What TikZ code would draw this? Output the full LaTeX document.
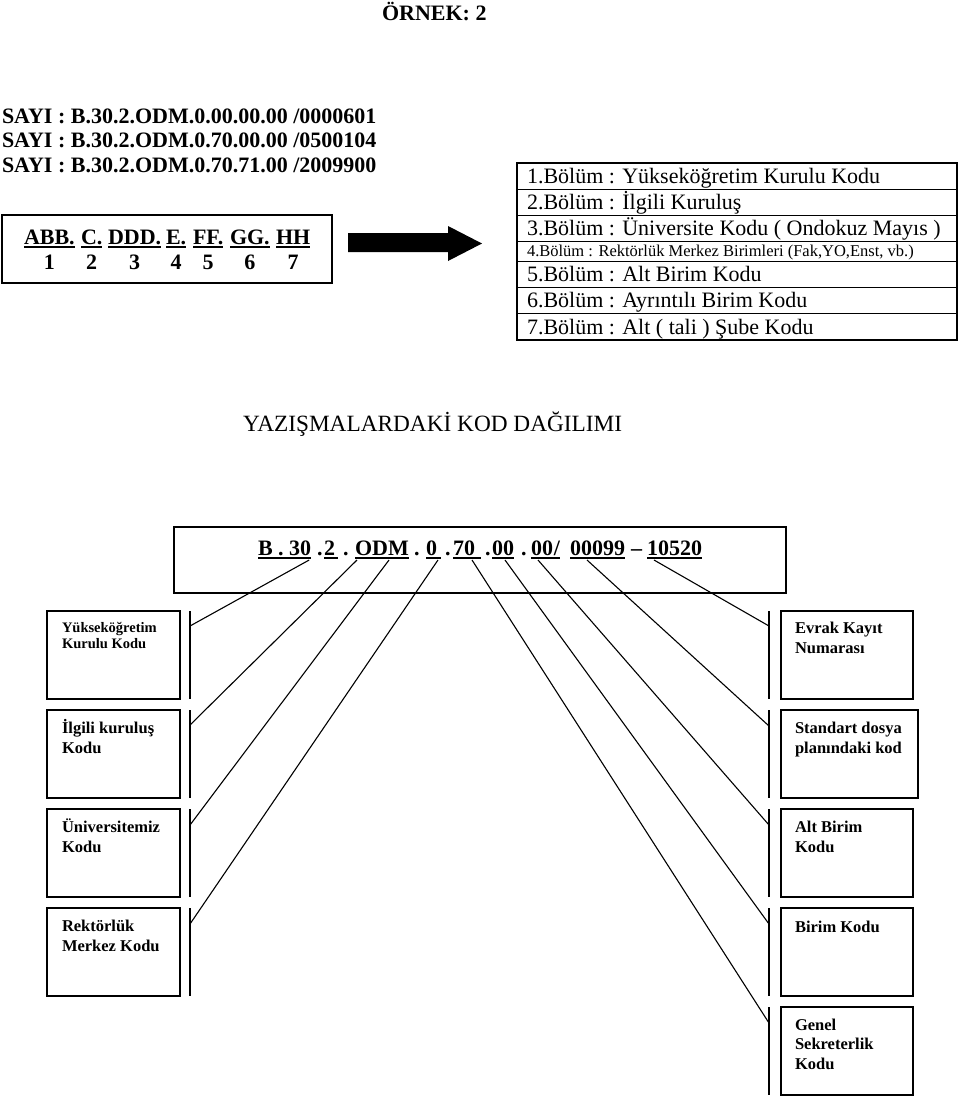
\documentclass[tikz,border=0pt]{standalone}
\usepackage{fontspec}
\setmainfont{Liberation Serif}
\usetikzlibrary{calc}
\newcommand{\myul}[2][0pt]{\setbox0\hbox{#2}\rlap{\rule[-3.5pt]{\dimexpr\wd0+#1\relax}{1.6pt}}\box0}
\begin{document}
\begin{tikzpicture}[x=1pt,y=-1pt,
  every node/.style={inner sep=0pt, outer sep=0pt},
  boxframe/.style={draw, line width=1.3pt, anchor=north west},
  lbox/.style={boxframe, minimum width=133pt, minimum height=88pt},
  rbox/.style={boxframe, minimum width=132pt, minimum height=88pt},
  btxt/.style={anchor=base west, align=left, font=\bfseries\fontsize{16.5}{20}\selectfont},
  conn/.style={line width=1.1pt},
  brk/.style={line width=1.3pt},
  bigtxt/.style={anchor=base west, font=\fontsize{23.3}{27}\selectfont},
  bigbold/.style={anchor=base west, font=\bfseries\fontsize{22}{26}\selectfont},
  rowtxt/.style={anchor=base west, font=\fontsize{22}{26}\selectfont},
  smallrow/.style={anchor=base west, font=\fontsize{16.5}{20}\selectfont},
  dotstyle/.style={anchor=base west, font=\bfseries\fontsize{22}{26}\selectfont}
]
\useasboundingbox (0,0) rectangle (960,1098);

% title
\node[bigbold] (title) at (382,20) {ÖRNEK: 2};

% SAYI lines
\node[bigbold] (sayi1) at (2,123) {SAYI : B.30.2.ODM.0.00.00.00 /0000601};
\node[bigbold] (sayi2) at (2,147.5) {SAYI : B.30.2.ODM.0.70.00.00 /0500104};
\node[bigbold] (sayi3) at (2,172) {SAYI : B.30.2.ODM.0.70.71.00 /2009900};

% legend box
\node[boxframe, minimum width=330pt, minimum height=68pt] (leg) at (2,215) {};
\node[bigbold] (g1) at (24,244) {\myul{ABB.}};
\node[bigbold] (g2) at (81,244) {\myul{C.}};
\node[bigbold] (g3) at (108,244) {\myul{DDD.}};
\node[bigbold] (g4) at (166,244) {\myul{E.}};
\node[bigbold] (g5) at (193,244) {\myul{FF.}};
\node[bigbold] (g6) at (230,244) {\myul{GG.}};
\node[bigbold] (g7) at (276,244) {\myul{HH}};
\foreach \i in {1,...,7}
  \node[font=\bfseries\fontsize{22}{26}\selectfont, anchor=base] (n\i) at ($(g\i.base)+(0,25)$) {\i};

% big arrow
\fill (348,233) -- (448,233) -- (448,226) -- (482,243.5) -- (448,261) -- (448,252) -- (348,252) -- cycle;

% table
\node[boxframe, minimum width=440pt, minimum height=177pt] (tab) at (517,163) {};
\foreach \yy in {189.2,215.4,241.6,261.3,287.5,313.7}
  \draw[line width=1.3pt] (517,\yy) -- (957,\yy);
\node[rowtxt] (row1) at (527,183.5) {1.Bölüm : Yükseköğretim Kurulu Kodu};
\node[rowtxt] (row2) at (527,209.5) {2.Bölüm : İlgili Kuruluş};
\node[rowtxt] (row3) at (527,235.5) {3.Bölüm : Üniversite Kodu ( Ondokuz Mayıs )};
\node[smallrow] (row4) at (527,256.5) {4.Bölüm : Rektörlük Merkez Birimleri (Fak,YO,Enst, vb.)};
\node[rowtxt] (row5) at (527,281.5) {5.Bölüm : Alt Birim Kodu};
\node[rowtxt] (row6) at (527,307.5) {6.Bölüm : Ayrıntılı Birim Kodu};
\node[rowtxt] (row7) at (527,334) {7.Bölüm : Alt ( tali ) Şube Kodu};

% heading
\node[bigtxt] (head) at (243,431) {YAZIŞMALARDAKİ KOD DAĞILIMI};

% code box
\node[boxframe, minimum width=612pt, minimum height=66pt] (cbox) at (174,527) {};
\node[bigbold] (c1) at (258,555) {\myul{B . 30}};
\node[dotstyle] (d1) at (317,555) {.};
\node[bigbold] (c2) at (324,555) {\myul[3pt]{2}};
\node[dotstyle] (d2) at (343,555) {.};
\node[bigbold] (c3) at (355,555) {\myul{ODM}};
\node[dotstyle] (d3) at (414,555) {.};
\node[bigbold] (c4) at (426,555) {\myul[4pt]{0}};
\node[dotstyle] (d4) at (445,555) {.};
\node[bigbold] (c5) at (453,555) {\myul[6pt]{70}};
\node[dotstyle] (d5) at (485,555) {.};
\node[bigbold] (c6) at (492,555) {\myul{00}};
\node[dotstyle] (d6) at (521,555) {.};
\node[bigbold] (c7) at (531,555) {\myul{00\kern1pt/}};
\node[bigbold] (c8) at (570,555) {\myul{00099}};
\node[bigbold] (d8) at (631,555) {–};
\node[bigbold] (c9) at (647,555) {\myul{10520}};

% left boxes
\node[lbox] (l1) at (47,611) {};
\node[lbox] (l2) at (47,710) {};
\node[lbox] (l3) at (47,809) {};
\node[lbox] (l4) at (47,908) {};
\node[btxt, font=\bfseries\fontsize{14.5}{16.5}\selectfont] (lt1) at ($(l1.north west)+(15,37.5)$) {Yükseköğretim\\Kurulu Kodu};
\node[btxt] (lt2) at ($(l2.north west)+(15,43)$) {İlgili kuruluş\\Kodu};
\node[btxt] (lt3) at ($(l3.north west)+(15,43)$) {Üniversitemiz\\Kodu};
\node[btxt] (lt4) at ($(l4.north west)+(15,43)$) {Rektörlük\\Merkez Kodu};
\foreach \b in {l1,l2,l3,l4}
  \draw[brk] ($(\b.north east)+(10,0)$) -- ($(\b.south east)+(10,0)$);

% right boxes
\node[rbox] (r1) at (781,611) {};
\node[rbox, minimum width=137pt] (r2) at (781,710) {};
\node[rbox] (r3) at (781,809) {};
\node[rbox] (r4) at (781,908) {};
\node[rbox] (r5) at (781,1007) {};
\node[btxt] (rt1) at ($(r1.north west)+(14,42)$) {Evrak Kayıt\\Numarası};
\node[btxt] (rt2) at ($(r2.north west)+(14,43)$) {Standart dosya\\planındaki kod};
\node[btxt] (rt3) at ($(r3.north west)+(14,43)$) {Alt Birim\\Kodu};
\node[btxt] (rt4) at ($(r4.north west)+(14,24)$) {Birim Kodu};
\node[btxt, font=\bfseries\fontsize{16.5}{19.5}\selectfont] (rt5) at ($(r5.north west)+(14,62)$) {Genel\\Sekreterlik\\Kodu};
\foreach \b in {r1,r2,r3,r4,r5}
  \draw[brk] ($(\b.north west)+(-12,0)$) -- ($(\b.south west)+(-12,0)$);

% connectors
\draw[conn] ($(c1.base east)+(-2,5)$) -- ($(l1.north east)+(10,15)$);
\draw[conn] ($(c3.base west)+(2,5)$) -- ($(l2.north east)+(10,15)$);
\draw[conn] ($(c3.base west)+(34,5)$) -- ($(l3.north east)+(10,16)$);
\draw[conn] ($(c4.base west)+(12,5)$) -- ($(l4.north east)+(10,16)$);
\draw[conn] ($(c5.base west)+(19,5)$) -- ($(r5.north west)+(-12,16)$);
\draw[conn] ($(c6.base west)+(13,5)$) -- ($(r4.north west)+(-12,16)$);
\draw[conn] ($(c7.base west)+(7,5)$) -- ($(r3.north west)+(-12,16)$);
\draw[conn] ($(c8.base west)+(17,5)$) -- ($(r2.north west)+(-12,16)$);
\draw[conn] ($(c9.base west)+(7,5)$) -- ($(r1.north west)+(-12,15)$);
\end{tikzpicture}
\end{document}
